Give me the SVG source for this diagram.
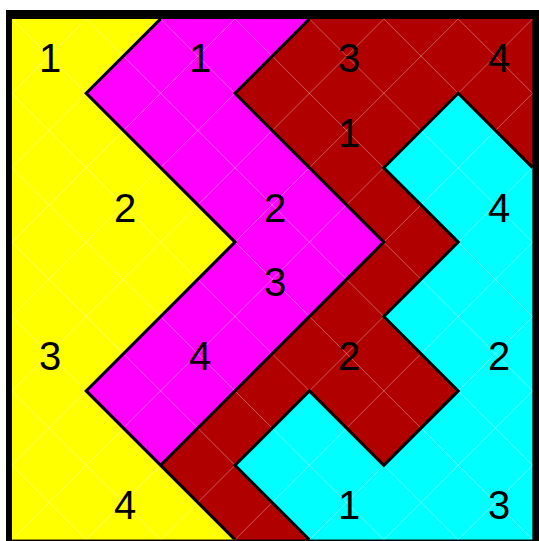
<svg xmlns="http://www.w3.org/2000/svg" width="539" height="541" viewBox="0 0 539 541">
<style>
.r{stroke:#000;stroke-width:3;stroke-linejoin:miter}
.g{stroke:#fff;stroke-opacity:0.35;stroke-width:1;fill:none}
text{font-family:"Liberation Sans",Arial,sans-serif;font-size:40px;fill:#000;text-anchor:middle}
</style>
<defs>
<clipPath id="inner"><rect x="11.8" y="18.9" width="520.8" height="520.8"/></clipPath>
</defs>
<rect x="6" y="10" width="533" height="531" fill="#000"/>
<g clip-path="url(#inner)">
<g id="yellow">
<polygon fill="#ffff00" points="11.8,18.9 160.6,18.9 86.2,93.3 235,242.1 86.2,390.9 235,539.7 11.8,539.7"/>
</g>
<g id="magenta">
<polygon fill="#ff00ff" points="160.6,18.9 309.4,18.9 235,93.3 383.8,242.1 160.6,465.3 86.2,390.9 235,242.1 86.2,93.3"/>
</g>
<g id="red">
<polygon fill="#b00000" points="309.4,18.9 532.6,18.9 532.6,167.7 458.2,93.3 383.8,167.7 458.2,242.1 383.8,316.5 458.2,390.9 383.8,465.3 309.4,390.9 235,465.3 309.4,539.7 235,539.7 160.6,465.3 383.8,242.1 235,93.3"/>
</g>
<g id="cyan">
<polygon fill="#00ffff" points="532.6,167.7 532.6,539.7 309.4,539.7 235,465.3 309.4,390.9 383.8,465.3 458.2,390.9 383.8,316.5 458.2,242.1 383.8,167.7 458.2,93.3"/>
</g>
<g id="grid" class="g">
<path d="M86.2,18.9 L11.8,93.3 M160.6,18.9 L11.8,167.7 M235,18.9 L11.8,242.1 M309.4,18.9 L11.8,316.5 M383.8,18.9 L11.8,390.9 M458.2,18.9 L11.8,465.3 M532.6,18.9 L11.8,539.7 M532.6,93.3 L86.2,539.7 M532.6,167.7 L160.6,539.7 M532.6,242.1 L235,539.7 M532.6,316.5 L309.4,539.7 M532.6,390.9 L383.8,539.7 M532.6,465.3 L458.2,539.7"/>
<path d="M458.2,18.9 L532.6,93.3 M383.8,18.9 L532.6,167.7 M309.4,18.9 L532.6,242.1 M235,18.9 L532.6,316.5 M160.6,18.9 L532.6,390.9 M86.2,18.9 L532.6,465.3 M11.8,18.9 L532.6,539.7 M11.8,93.3 L458.2,539.7 M11.8,167.7 L383.8,539.7 M11.8,242.1 L309.4,539.7 M11.8,316.5 L235,539.7 M11.8,390.9 L160.6,539.7 M11.8,465.3 L86.2,539.7"/>
</g>
<g id="boundaries" fill="none" class="r">
<polyline points="160.6,18.9 86.2,93.3 235,242.1 86.2,390.9 235,539.7"/>
<polyline points="309.4,18.9 235,93.3 383.8,242.1 160.6,465.3"/>
<polyline points="532.6,167.7 458.2,93.3 383.8,167.7 458.2,242.1 383.8,316.5 458.2,390.9 383.8,465.3 309.4,390.9 235,465.3 309.4,539.7"/>
</g>
</g>
<g id="labels">
<text x="50" y="72">1</text>
<text x="200" y="72">1</text>
<text x="349" y="72">3</text>
<text x="499" y="72">4</text>
<text x="349" y="147">1</text>
<text x="125" y="222">2</text>
<text x="275" y="222">2</text>
<text x="499" y="222">4</text>
<text x="275" y="296">3</text>
<text x="50" y="370">3</text>
<text x="200" y="370">4</text>
<text x="349" y="370">2</text>
<text x="499" y="370">2</text>
<text x="125" y="519">4</text>
<text x="349" y="519">1</text>
<text x="499" y="519">3</text>
</g>
</svg>
